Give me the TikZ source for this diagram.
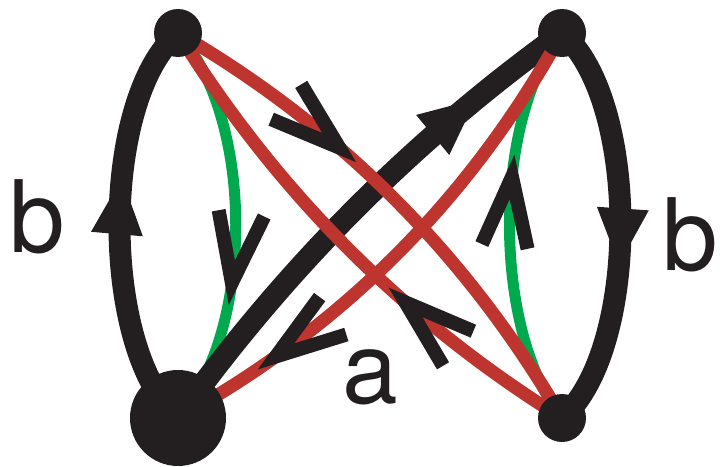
\documentclass[tikz,border=0pt]{standalone}
\usepackage{fontspec}
\newfontfamily\labelfont{TeX Gyre Heros}
\usepackage{tikz}
\usetikzlibrary{decorations.markings}
\definecolor{inkblack}{RGB}{35,31,32}
\definecolor{edgered}{RGB}{190,52,46}
\definecolor{edgegreen}{RGB}{0,168,78}

\begin{document}
\begin{tikzpicture}[x=1pt,y=-1pt,
  dot/.style={circle,fill=inkblack,inner sep=0pt,minimum size=#1},
  loopedge/.style={draw=inkblack,line width=22pt},
  rededge/.style={draw=edgered,line width=13pt},
  greenedge/.style={draw=edgegreen,line width=11pt},
  chev/.style={postaction={decorate,decoration={markings,mark=at position #1 with
    {\draw[inkblack,line width=14pt] (-70pt,23pt)--(0pt,0pt)--(-70pt,-23pt);}}}},
  barb/.style={postaction={decorate,decoration={markings,mark=at position #1 with
    {\fill[inkblack] (6pt,0pt)--(-50pt,26pt)--(-50pt,-26pt)--cycle;}}}},
  lbl/.style={font=\labelfont\fontsize{100}{110}\selectfont,text=inkblack,inner sep=0pt,anchor=base}]
  \useasboundingbox (0,0) rectangle (720,466);
  \coordinate (tl) at (178,33); \coordinate (tr) at (562,33);
  \coordinate (bl) at (178,418); \coordinate (br) at (562,418);
  % green pair
  \draw[greenedge,chev=0.64] (tl) .. controls (255,120) and (255,330) .. (bl);
  \draw[greenedge,chev=0.62] (br) .. controls (492,330) and (492,120) .. (tr);
  % black b loops and diagonal
  \draw[loopedge,barb=0.6] (bl) .. controls (100,350) and (100,100) .. (tl);
  \draw[loopedge,barb=0.58] (tr) .. controls (640,100) and (640,350) .. (br);
  \draw[loopedge,barb=0.79] (bl) .. controls (285,269) and (413,140) .. (tr);
  % red a edges
  \draw[rededge,chev=0.36] (tl) .. controls (340,127) and (468,256) .. (br);
  \draw[rededge,chev=0.355] (br) .. controls (404,320) and (276,191) .. (tl);
  \draw[rededge,chev=0.79] (tr) .. controls (471,198) and (343,327) .. (bl);
  \node[dot=48pt] (v1) at (tl) {}; \node[dot=48pt] (v2) at (tr) {};
  \node[dot=96pt] (v3) at (bl) {}; \node[dot=48pt] (v4) at (br) {};
  \node[lbl] (bleft) at (37,252) {b};
  \node[lbl] (bright) at (690,270) {b};
  \node[lbl] (alabel) at (370,403) {a};
\end{tikzpicture}
\end{document}
